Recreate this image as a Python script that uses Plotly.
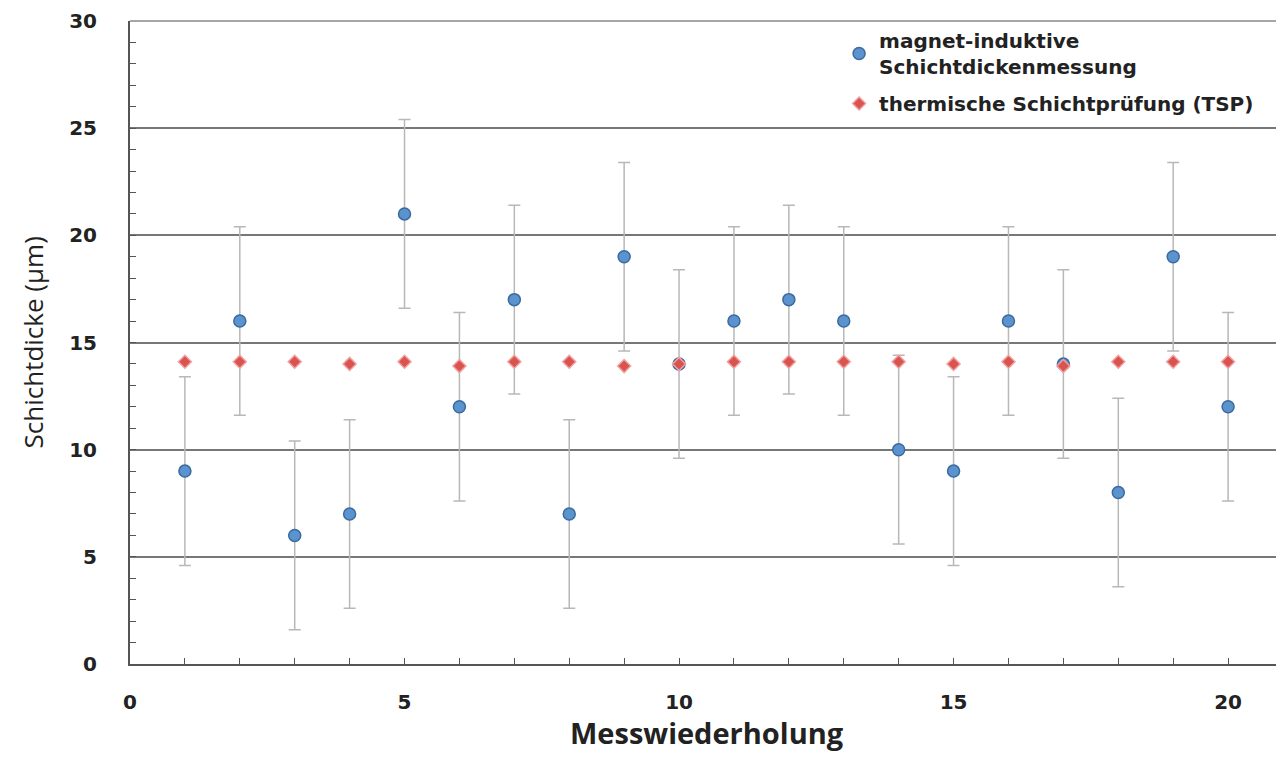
import plotly.graph_objects as go

x_vals = list(range(1, 21))
magnet = [9, 16, 6, 7, 21, 12, 17, 7, 19, 14, 16, 17, 16, 10, 9, 16, 14, 8, 19, 12]
magnet_err = [4.4] * 20
tsp = [14.1, 14.1, 14.1, 14.0, 14.1, 13.9, 14.1, 14.1, 13.9, 14.0,
       14.1, 14.1, 14.1, 14.1, 14.0, 14.1, 13.9, 14.1, 14.1, 14.1]
x_ticks = [0, 5, 10, 15, 20]
y_ticks = [0, 5, 10, 15, 20, 25, 30]

fig = go.Figure()
fig.add_trace(go.Scatter(
    x=x_vals, y=magnet, mode="markers", legendgroup="a",
    name="magnet-induktive<br>Schichtdickenmessung",
    marker=dict(symbol="circle", size=12, color="#5b93cf",
                line=dict(color="#3a6a9e", width=1.5)),
    error_y=dict(type="data", array=magnet_err, visible=True,
                 color="#b8b8b8", thickness=1.5, width=6),
))
fig.add_trace(go.Scatter(
    x=x_vals, y=tsp, mode="markers", legendgroup="b",
    name="thermische Schichtprüfung (TSP)",
    marker=dict(symbol="diamond", size=10, color="#d9534f",
                line=dict(color="#f0a0a0", width=1.5)),
))

axis_font = dict(family="DejaVu Sans", size=20, color="#222", weight="bold")
fig.update_layout(
    width=1276, height=749,
    margin=dict(l=122, r=1, t=13, b=93),
    paper_bgcolor="white", plot_bgcolor="white",
    showlegend=True,
    legend=dict(x=0.615, y=1.0, xanchor="left", yanchor="top",
                bgcolor="rgba(0,0,0,0)", borderwidth=0,
                font=dict(family="DejaVu Sans", size=20, color="#222", weight="bold"),
                traceorder="grouped", tracegroupgap=8, itemsizing="trace"),
    xaxis=dict(range=[0, 21], tickmode="array", tickvals=x_ticks,
               ticktext=[str(t) for t in x_ticks], automargin=False,
               showgrid=False, zeroline=False,
               showline=True, linecolor="#555", linewidth=2, mirror=False,
               ticks="inside", ticklen=6, tickcolor="#555",
               minor=dict(dtick=1, ticks="inside", ticklen=6, tickcolor="#555"),
               tickfont=axis_font, ticklabelstandoff=19),
    yaxis=dict(range=[0, 30], tickmode="array", tickvals=y_ticks, automargin=False,
               showgrid=True, gridcolor="#777", gridwidth=1.5,
               zeroline=False,
               showline=True, linecolor="#555", linewidth=2,
               ticks="inside", ticklen=6, tickcolor="#555",
               minor=dict(dtick=1, ticks="inside", ticklen=6, tickcolor="#555", showgrid=False),
               tickfont=axis_font, ticklabelstandoff=27),
    annotations=[
        dict(text="Messwiederholung", xref="paper", yref="paper",
             x=0.5, y=0, yshift=-68, xanchor="center", yanchor="middle",
             showarrow=False,
             font=dict(family="Open Sans", size=29, color="#222", weight="bold")),
        dict(text="Schichtdicke (µm)", xref="paper", yref="paper",
             x=0, xshift=-98, y=0.5, textangle=-90,
             xanchor="center", yanchor="middle", showarrow=False,
             font=dict(family="Open Sans", size=26, color="#222")),
    ],
)
# right border and top border
fig.add_shape(type="line", xref="paper", yref="paper", x0=1, x1=1, y0=0, y1=1,
              line=dict(color="#555", width=2))
fig.add_shape(type="line", xref="paper", yref="paper", x0=0, x1=1, y0=1, y1=1,
              line=dict(color="#888", width=1.5))

fig.write_html("out.html")
